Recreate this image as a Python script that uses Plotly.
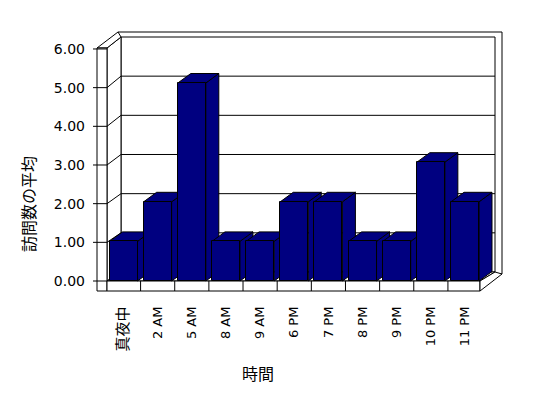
import plotly.graph_objects as go

# ---------------- data ----------------
categories = ["真夜中", "2 AM", "5 AM", "8 AM", "9 AM", "6 PM", "7 PM", "8 PM", "9 PM", "10 PM", "11 PM"]
values = [1, 2, 5, 1, 1, 2, 2, 1, 1, 3, 2]
y_tick_values = [0, 1, 2, 3, 4, 5, 6]
y_tick_labels = ["0.00", "1.00", "2.00", "3.00", "4.00", "5.00", "6.00"]
x_title = "時間"
y_title = "訪問数の平均"

# ---------------- style / geometry ----------------
NAVY = "#000080"
BAR_W = 0.82
X0, SX = 123.5, 34.15      # pixel position of category 0 and px per category
Y0, SY = 281.0, 39.6       # pixel position of value 0 and px per unit
W, H = 548, 398
PL, PR, PT, PB = 90, 510, 25, 300   # plot area in pixels


def ux(px):
    return (px - X0) / SX


def uy(py):
    return (Y0 - py) / SY


DX = ux(X0 + 13) - ux(X0)     # bar depth offset (x)
DY = uy(Y0 - 9.5) - uy(Y0)    # bar depth offset (y)
K_FRONT = 38.67 / SY          # front wall scale (perspective)
K_BACK = 39.17 / SY           # back wall scale


def y_front(v):
    return v * K_FRONT


def y_back(v):
    return uy(272) + v * K_BACK


shapes = []


def poly(pts_px, fill="white", lw=1):
    d = "M " + " L ".join(f"{ux(x):.4f},{uy(y):.4f}" for x, y in pts_px) + " Z"
    shapes.append(dict(type="path", path=d, xref="x", yref="y", fillcolor=fill,
                       line=dict(color="black", width=lw), layer="below"))


def poly_data(pts, fill):
    d = "M " + " L ".join(f"{x:.4f},{y:.4f}" for x, y in pts) + " Z"
    shapes.append(dict(type="path", path=d, xref="x", yref="y", fillcolor=fill,
                       line=dict(color="black", width=1), layer="below"))


def seg(x0, y0, x1, y1):
    shapes.append(dict(type="line", x0=x0, y0=y0, x1=x1, y1=y1, xref="x", yref="y",
                       line=dict(color="black", width=1), layer="below"))


# back wall (outer + inner)
poly([(118, 32), (502, 32), (502, 274), (118, 274)])
poly([(121, 37), (495, 37), (495, 272), (121, 272)])
# back wall gridlines
for v in y_tick_values[1:-1]:
    seg(ux(121), y_back(v), ux(495), y_back(v))
# left wall inner face
poly([(107, 48), (121, 37), (121, 272), (107, 281)])
# left wall top
poly([(97, 48), (118, 32), (121, 37), (107, 48)])
# left wall front face
poly([(97, 48), (107, 48), (107, 291), (97, 291)])
for v in y_tick_values:
    # diagonal gridlines on left wall
    if 0 < v < 6:
        seg(ux(107), y_front(v), ux(121), y_back(v))
    # lines across the wall front face + tick marks
    seg(ux(93), y_front(v), ux(107), y_front(v))
# floor top
poly([(107, 281), (480, 281), (495, 272), (121, 272)])
# floor front slab
poly([(107, 281), (480, 281), (480, 291), (107, 291)])
for i in range(len(categories) - 1):
    seg(i + 0.5, uy(281), i + 0.5, uy(291))
# floor right side
poly([(480, 281), (495, 272), (502, 274), (480, 291)])

# bar sides and tops (left to right)
for i, v in enumerate(values):
    xl, xr = i - BAR_W / 2, i + BAR_W / 2
    poly_data([(xr, 0), (xr + DX, DY), (xr + DX, v + DY), (xr, v)], NAVY)
    poly_data([(xl, v), (xr, v), (xr + DX, v + DY), (xl + DX, v + DY)], NAVY)


def tick_text(label):
    # CJK labels are shown a little larger, as in the original
    if any(ord(ch) > 0x2E80 for ch in label):
        return f'<span style="font-size:15px">{label}</span>'
    return label


fig = go.Figure()
fig.add_trace(go.Bar(
    x=list(range(len(categories))), y=values, width=BAR_W,
    marker=dict(color=NAVY, line=dict(color="black", width=1)),
    hoverinfo="skip", showlegend=False,
))

fig.update_layout(
    width=W, height=H,
    margin=dict(l=PL, r=W - PR, t=PT, b=H - PB, pad=0),
    paper_bgcolor="white", plot_bgcolor="white",
    shapes=shapes,
    bargap=0,
    xaxis=dict(
        range=[ux(PL), ux(PR)], tickmode="array",
        tickvals=list(range(len(categories))),
        ticktext=[tick_text(c) for c in categories],
        tickangle=-90, showgrid=False, zeroline=False, showline=False, ticks="",
        ticklabelstandoff=3,
        tickfont=dict(family="DejaVu Sans, Noto Sans CJK JP", size=13, color="black"),
        fixedrange=True,
    ),
    yaxis=dict(
        range=[uy(PB), uy(PT)], tickmode="array",
        tickvals=[y_front(v) for v in y_tick_values], ticktext=y_tick_labels,
        showgrid=False, zeroline=False, showline=False, ticks="",
        ticklabelstandoff=4,
        tickfont=dict(family="DejaVu Sans", size=14, color="black"),
        fixedrange=True,
    ),
    annotations=[
        dict(text=x_title, xref="paper", yref="paper",
             x=(258 - PL) / (PR - PL), y=(PB - 373) / (PB - PT),
             xanchor="center", yanchor="middle", showarrow=False,
             font=dict(family="Noto Sans CJK JP", size=16, color="black")),
        dict(text=y_title, xref="paper", yref="paper",
             x=(28 - PL) / (PR - PL), y=(PB - 204) / (PB - PT),
             xanchor="center", yanchor="middle", showarrow=False, textangle=-90,
             font=dict(family="Noto Sans CJK JP", size=16, color="black")),
    ],
)

fig.write_html("out.html")
